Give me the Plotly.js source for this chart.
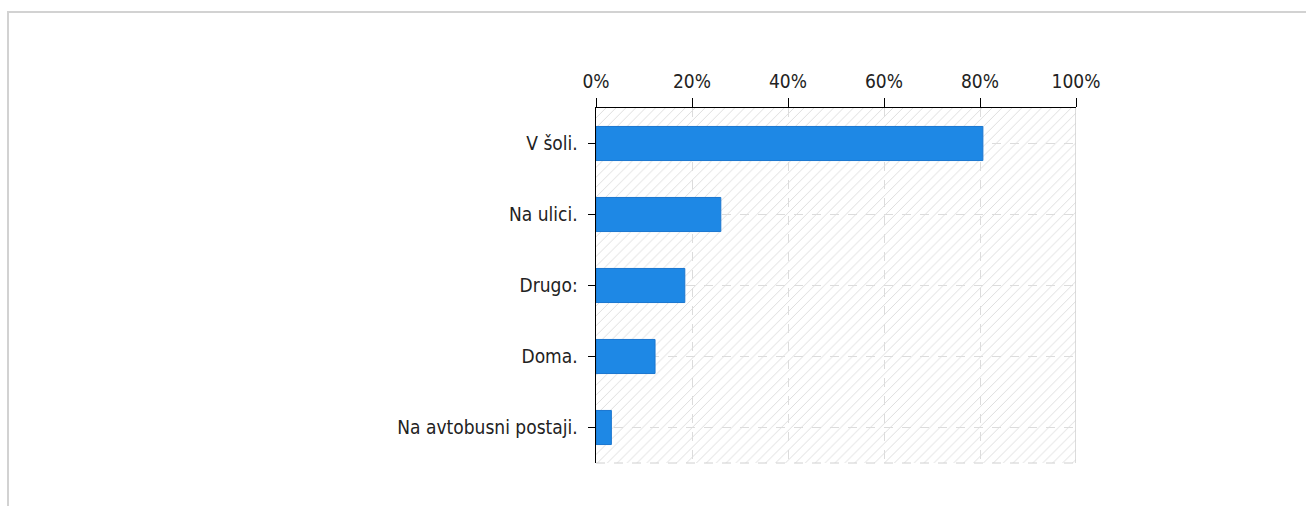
<!DOCTYPE html>
<html>
<head>
<meta charset="utf-8">
<script src="https://cdn.plot.ly/plotly-3.0.1.min.js"></script>
<style>
  html, body { margin: 0; padding: 0; background: #ffffff; }
  #frame { position: absolute; left: 7px; top: 11px; width: 1320px; height: 520px;
           border-top: 2px solid #d2d2d2; border-left: 2px solid #d2d2d2; }
  #chart { position: absolute; left: 0; top: 0; width: 1306px; height: 506px; }
</style>
</head>
<body>
<div id="frame"></div>
<div id="chart"></div>
<script>
const categories = ["V šoli.", "Na ulici.", "Drugo:", "Doma.", "Na avtobusni postaji."];
const percentValues = [80.6, 26.0, 18.5, 12.3, 3.2];
const tickValues = [0, 20, 40, 60, 80, 100];
const tickLabels = ["0%", "20%", "40%", "60%", "80%", "100%"];

const fontFamily = '"DejaVu Sans Condensed", "Liberation Sans Narrow", "DejaVu Sans", sans-serif';

const hatch = {
  type: "bar", orientation: "h",
  x: [100], y: [0.5], width: [1], base: [0],
  xaxis: "x", yaxis: "y",
  marker: { color: "rgba(0,0,0,0)", line: { width: 0 },
            pattern: { shape: "/", fgcolor: "#dedede", size: 7, solidity: 0.14 } },
  hoverinfo: "skip", showlegend: false
};

const bars = {
  type: "bar", orientation: "h",
  x: percentValues, y: categories,
  xaxis: "x", yaxis: "y2",
  marker: { color: "#1e88e5", line: { color: "#1a76cf", width: 1 } },
  hoverinfo: "x+y", showlegend: false
};

const layout = {
  width: 1306, height: 506,
  margin: { l: 596, r: 230, t: 108, b: 43, pad: 0 },
  paper_bgcolor: "rgba(0,0,0,0)",
  plot_bgcolor: "#ffffff",
  font: { family: fontFamily, size: 19, color: "#222222" },
  bargap: 0.52,
  xaxis: {
    side: "top", range: [0, 100], tickvals: tickValues, ticktext: tickLabels,
    ticks: "outside", ticklen: 9, tickcolor: "#000000", tickwidth: 1,
    showline: true, linecolor: "#000000", linewidth: 1.5,
    showgrid: true, gridcolor: "#dcdcdc", griddash: "dash", gridwidth: 1,
    zeroline: false, ticklabelstandoff: 2, fixedrange: true
  },
  yaxis: {
    range: [0, 1], visible: false, showgrid: false, zeroline: false, fixedrange: true
  },
  yaxis2: {
    overlaying: "y", type: "category", autorange: "reversed",
    ticks: "outside", ticklen: 7, tickcolor: "#000000", tickwidth: 1,
    showline: true, linecolor: "#000000", linewidth: 1.5,
    showgrid: true, gridcolor: "#dcdcdc", griddash: "dash", gridwidth: 1,
    zeroline: false, ticklabelstandoff: 6, fixedrange: true
  },
  shapes: [
    { type: "line", xref: "x", yref: "paper", x0: 100, x1: 100, y0: 0, y1: 1,
      line: { color: "#d0d0d0", width: 1.5 } },
    { type: "line", xref: "x", yref: "paper", x0: 0, x1: 100, y0: 0, y1: 0,
      line: { color: "#d0d0d0", width: 1, dash: "dash" } }
  ]
};

Plotly.newPlot("chart", [hatch, bars], layout, { displayModeBar: false, staticPlot: true });
</script>
</body>
</html>
